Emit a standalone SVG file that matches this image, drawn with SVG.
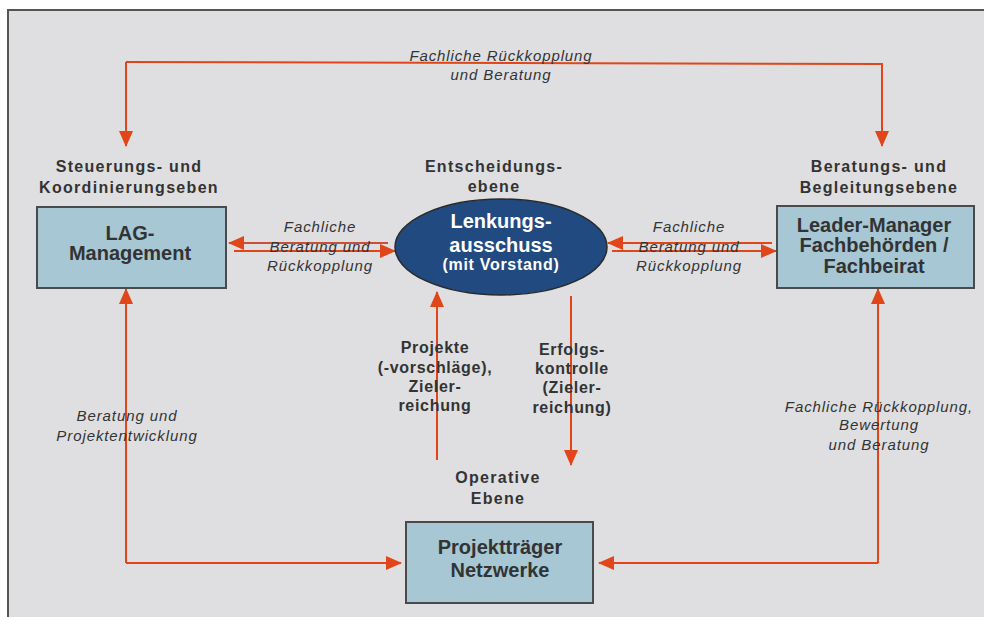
<svg xmlns="http://www.w3.org/2000/svg" width="984" height="617" viewBox="0 0 984 617">
<defs>
<marker id="ah" markerUnits="userSpaceOnUse" markerWidth="16" markerHeight="14" viewBox="0 0 16 14" refX="15" refY="7" orient="auto">
<path d="M0,0 L16,7 L0,14 z" fill="#e0461a"/>
</marker>
<style>
.bg{fill:#dfdfe1;}
.frame{fill:none;stroke:#555;stroke-width:2;}
.box{fill:#a6c7d3;stroke:#4a4a4a;stroke-width:2;}
.ell{fill:#204a80;stroke:#2a2a2a;stroke-width:1.5;}
.c{fill:none;stroke:#e0461a;stroke-width:2;}
.ca{fill:none;stroke:#e0461a;stroke-width:2;marker-end:url(#ah);}
.hd{font-family:"Liberation Sans",Arial,sans-serif;font-weight:bold;font-size:16px;letter-spacing:1.3px;fill:#333;text-anchor:middle;}
.lab{font-family:"Liberation Sans",Arial,sans-serif;font-weight:bold;font-size:16px;letter-spacing:0.7px;fill:#333;text-anchor:middle;}
.it{font-family:"Liberation Sans",Arial,sans-serif;font-style:italic;font-size:15px;letter-spacing:0.9px;fill:#333;text-anchor:middle;}
.nt{font-family:"Liberation Sans",Arial,sans-serif;font-weight:bold;font-size:20px;fill:#333;text-anchor:middle;}
.wt{font-family:"Liberation Sans",Arial,sans-serif;font-weight:bold;font-size:20px;fill:#fff;text-anchor:middle;}
.ws{font-family:"Liberation Sans",Arial,sans-serif;font-weight:bold;font-size:16px;letter-spacing:0.7px;fill:#fff;text-anchor:middle;}
</style>
</defs>
<rect x="0" y="0" width="984" height="617" fill="#fff"/>
<rect class="bg" x="8" y="10" width="980" height="612"/>
<path class="frame" d="M8,617 L8,10 L984,10"/>

<g id="connectors">
<path class="c" d="M126,62 L883,64"/>
<path class="ca" d="M126,62 L126,146"/>
<path class="ca" d="M882,64 L882,146"/>
<path class="ca" d="M388,243 L229,243" style="stroke:#c85038"/>
<path class="ca" d="M234,251 L395,251"/>
<path class="ca" d="M772,243 L608,243"/>
<path class="ca" d="M612,251 L776,251"/>
<path class="ca" d="M437,460 L437,292"/>
<path class="ca" d="M571,296 L571,465"/>
<path class="ca" d="M126,563 L401,563"/>
<path class="ca" d="M126,563 L126,289"/>
<path class="ca" d="M878,563 L878,289"/>
<path class="ca" d="M878,563 L599,563"/>
</g>

<g id="labels">
<text class="it" x="501" y="61">Fachliche Rückkopplung</text>
<text class="it" x="501" y="80">und Beratung</text>
<text class="hd" x="129" y="172">Steuerungs- und</text>
<text class="hd" x="129" y="193">Koordinierungseben</text>
<text class="hd" x="494" y="172">Entscheidungs-</text>
<text class="hd" x="494" y="192">ebene</text>
<text class="hd" x="879" y="172">Beratungs- und</text>
<text class="hd" x="879" y="193">Begleitungsebene</text>
<text class="it" x="320" y="232">Fachliche</text>
<text class="it" x="320" y="252">Beratung und</text>
<text class="it" x="320" y="271">Rückkopplung</text>
<text class="it" x="689" y="232">Fachliche</text>
<text class="it" x="689" y="252">Beratung und</text>
<text class="it" x="689" y="271">Rückkopplung</text>
<text class="lab" x="435" y="353">Projekte</text>
<text class="lab" x="435" y="373">(-vorschläge),</text>
<text class="lab" x="435" y="392">Zieler-</text>
<text class="lab" x="435" y="411">reichung</text>
<text class="lab" x="572" y="355">Erfolgs-</text>
<text class="lab" x="572" y="374">kontrolle</text>
<text class="lab" x="572" y="393">(Zieler-</text>
<text class="lab" x="572" y="413">reichung)</text>
<text class="hd" x="498" y="483">Operative</text>
<text class="hd" x="498" y="504">Ebene</text>
<text class="it" x="127" y="421">Beratung und</text>
<text class="it" x="127" y="441">Projektentwicklung</text>
<text class="it" x="879" y="412">Fachliche Rückkopplung,</text>
<text class="it" x="879" y="430">Bewertung</text>
<text class="it" x="879" y="450">und Beratung</text>
</g>

<g id="lag">
<rect class="box" x="37" y="207" width="189" height="81"/>
<text class="nt" x="130" y="240">LAG-</text>
<text class="nt" x="130" y="260">Management</text>
</g>

<g id="lenkung">
<ellipse class="ell" cx="501" cy="247" rx="106" ry="48"/>
<text class="wt" x="501" y="228">Lenkungs-</text>
<text class="wt" x="501" y="252">ausschuss</text>
<text class="ws" x="501" y="270">(mit Vorstand)</text>
</g>

<g id="leader">
<rect class="box" x="777" y="206" width="197" height="82"/>
<text class="nt" x="874" y="232">Leader-Manager</text>
<text class="nt" x="874" y="252">Fachbehörden /</text>
<text class="nt" x="874" y="273">Fachbeirat</text>
</g>

<g id="projekttraeger">
<rect class="box" x="406" y="522" width="187" height="81"/>
<text class="nt" x="500" y="554">Projektträger</text>
<text class="nt" x="500" y="577">Netzwerke</text>
</g>
</svg>
